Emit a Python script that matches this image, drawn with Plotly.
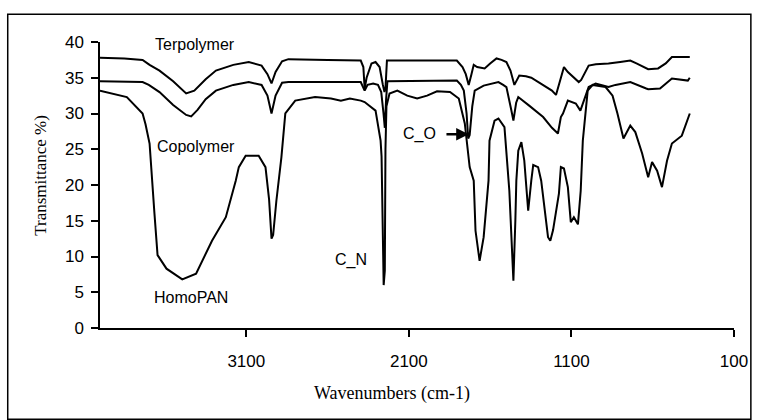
import plotly.graph_objects as go

# Terpolymer spectrum
terp_wn = [4000, 3850, 3738, 3695, 3634, 3550, 3470, 3420, 3350, 3287, 3180, 3085, 3006, 2970,
           2945, 2920, 2880, 2841, 2600, 2396, 2380, 2372, 2360, 2330, 2305, 2280, 2260, 2250,
           2244, 2235, 1805, 1770, 1750, 1732, 1715, 1701, 1680, 1634, 1600, 1561, 1530, 1500,
           1475, 1451, 1421, 1380, 1347, 1274, 1220, 1195, 1170, 1146, 1122, 1091, 1055, 1040,
           994, 950, 872, 800, 738, 700, 628, 567, 520, 482, 372]
terp_t = [37.8, 37.7, 37.5, 36.8, 36.0, 34.5, 32.8, 33.2, 34.8, 36.0, 36.8, 37.2, 36.7, 35.5,
          34.2, 35.8, 37.3, 37.6, 37.5, 37.4, 36.5, 33.5, 35.0, 37.0, 37.2, 36.5, 34.0, 33.0,
          33.5, 37.4, 37.4, 36.5, 35.5, 34.0, 35.5, 36.8, 36.5, 36.3, 37.0, 37.7, 37.5, 37.2,
          36.0, 34.0, 35.3, 35.2, 35.0, 34.0, 33.2, 32.6, 34.5, 36.5, 35.8, 35.1, 34.4, 34.7,
          36.7, 36.9, 37.0, 37.2, 37.4, 37.0, 36.2, 36.3, 37.0, 37.9, 37.9]

# Copolymer spectrum
copo_wn = [4000, 3850, 3738, 3700, 3634, 3550, 3470, 3439, 3400, 3350, 3287, 3180, 3085, 3006,
           2970, 2945, 2920, 2880, 2841, 2396, 2372, 2354, 2320, 2290, 2270, 2256, 2248, 2240,
           2232, 1805, 1780, 1762, 1745, 1735, 1726, 1710, 1695, 1640, 1549, 1520, 1500, 1470,
           1457, 1440, 1427, 1360, 1274, 1220, 1183, 1165, 1152, 1122, 1073, 1045, 1010, 994,
           951, 872, 829, 738, 640, 628, 555, 482, 384, 372]
copo_t = [34.5, 34.5, 34.4, 34.0, 33.0, 31.2, 29.8, 29.6, 30.5, 32.0, 33.2, 34.0, 34.4, 34.0,
          32.5, 30.0, 32.5, 34.3, 34.4, 34.4, 33.2, 34.0, 34.2, 34.0, 33.0, 30.0, 28.0, 32.0,
          34.5, 34.6, 34.0, 33.2, 30.0, 26.5, 27.0, 31.0, 33.2, 33.9, 34.4, 34.0, 33.7, 30.5,
          29.0, 31.5, 32.3, 31.1, 29.5, 28.0, 27.2, 29.5, 30.0, 31.8, 31.4, 30.4, 32.5, 33.7,
          34.2, 33.7, 34.0, 34.4, 33.5, 33.4, 33.5, 34.9, 34.6, 35.0]

# HomoPAN spectrum
homo_wn = [4000, 3835, 3738, 3720, 3695, 3677, 3665, 3646, 3591, 3494, 3409, 3311, 3226, 3165,
           3146, 3104, 3024, 2982, 2960, 2945, 2935, 2915, 2884, 2860, 2799, 2677, 2579, 2518,
           2463, 2396, 2372, 2305, 2274, 2268, 2262, 2255, 2248, 2244, 2238, 2219, 2171, 2110,
           2049, 1988, 1927, 1847, 1793, 1756, 1726, 1701, 1690, 1665, 1640, 1610, 1604, 1573,
           1549, 1512, 1482, 1470, 1457, 1445, 1439, 1427, 1408, 1390, 1366, 1347, 1335, 1305,
           1286, 1244, 1230, 1213, 1177, 1165, 1146, 1122, 1104, 1085, 1060, 1043, 1030, 1000,
           969, 890, 847, 817, 780, 738, 707, 665, 628, 604, 573, 543, 512, 482, 421, 372]
homo_t = [33.2, 32.3, 30.0, 28.5, 25.8, 20.6, 16.0, 10.2, 8.3, 6.8, 7.6, 12.2, 15.5, 20.6,
          22.5, 24.1, 24.1, 22.5, 18.0, 12.5, 13.0, 17.8, 23.9, 30.0, 31.8, 32.3, 32.1, 31.8,
          32.1, 31.8, 31.6, 30.4, 26.2, 24.0, 16.0, 6.0, 8.0, 25.0, 31.0, 32.8, 33.2, 32.5,
          32.1, 32.5, 33.1, 33.0, 32.1, 28.6, 22.5, 20.6, 13.6, 9.4, 12.7, 20.6, 26.2, 29.0,
          29.3, 28.1, 19.2, 12.0, 6.6, 15.0, 20.6, 24.8, 26.0, 23.4, 16.4, 20.6, 22.8, 22.5,
          20.6, 12.7, 12.2, 13.7, 18.8, 22.5, 22.3, 19.7, 14.8, 15.5, 14.5, 19.2, 26.2, 33.2,
          34.0, 33.7, 32.5, 30.0, 26.5, 28.3, 27.4, 24.4, 21.1, 23.2, 22.0, 19.7, 23.4, 25.8,
          26.9, 30.0]

x_ticks = [3100, 2100, 1100, 100]
y_ticks = [0, 5, 10, 15, 20, 25, 30, 35, 40]

fig = go.Figure()
for wn, t, name in [(terp_wn, terp_t, "Terpolymer"), (copo_wn, copo_t, "Copolymer"),
                    (homo_wn, homo_t, "HomoPAN")]:
    fig.add_trace(go.Scatter(x=wn, y=t, mode="lines", name=name,
                             line=dict(color="black", width=2), showlegend=False))

sans = "Liberation Sans, Arial, sans-serif"
serif = "Liberation Serif, Times New Roman, serif"

annots = [
    dict(x=3415, y=39.7, text="Terpolymer"),
    dict(x=3408, y=25.4, text="Copolymer"),
    dict(x=3439, y=4.3, text="HomoPAN"),
    dict(x=2454, y=9.5, text="C_N"),
    dict(x=2033, y=27.1, text="C_O"),
]
for a in annots:
    fig.add_annotation(x=a["x"], y=a["y"], text=a["text"], showarrow=False,
                       font=dict(family=sans, size=16, color="black"),
                       xanchor="center", yanchor="middle")
fig.add_annotation(x=1732, y=27.1, ax=1878, ay=27.1, axref="x", ayref="y",
                   text="", showarrow=True, arrowhead=2, arrowsize=1, arrowwidth=2.5,
                   arrowcolor="black")

# titles as annotations
fig.add_annotation(xref="paper", yref="paper", x=(394 - 100) / 639, y=(327.7 - 393) / 286,
                   text="Wavenumbers (cm-1)", showarrow=False,
                   font=dict(family=serif, size=18, color="black"),
                   xanchor="center", yanchor="middle")
fig.add_annotation(xref="paper", yref="paper", x=(40 - 100) / 639, y=(327.7 - 175) / 286,
                   text="Transmittance %)", showarrow=False, textangle=-90,
                   font=dict(family=serif, size=17, color="black"),
                   xanchor="center", yanchor="middle")

# outer frame
fig.add_shape(type="rect", xref="paper", yref="paper",
              x0=(7 - 100) / 639, x1=(756 - 100) / 639,
              y0=(327.7 - 419) / 286, y1=(327.7 - 14) / 286,
              line=dict(color="black", width=1.5))

fig.update_layout(
    width=760, height=420,
    margin=dict(l=100, r=21, t=42, b=92),
    paper_bgcolor="white", plot_bgcolor="white",
    font=dict(family=sans, size=17, color="black"),
    xaxis=dict(range=[4000, 100], tickvals=x_ticks, ticktext=[str(v) for v in x_ticks],
               showgrid=False, zeroline=False, showline=True, linecolor="black",
               linewidth=1.5, ticks="outside", ticklen=7, tickwidth=1.5, tickcolor="black",
               ticklabelstandoff=10),
    yaxis=dict(range=[0, 40], tickvals=y_ticks, showgrid=False, zeroline=False,
               showline=True, linecolor="black", linewidth=1.5, ticks="outside",
               ticklen=7, tickwidth=1.5, tickcolor="black", ticklabelstandoff=4),
)

fig.write_html("out.html")
